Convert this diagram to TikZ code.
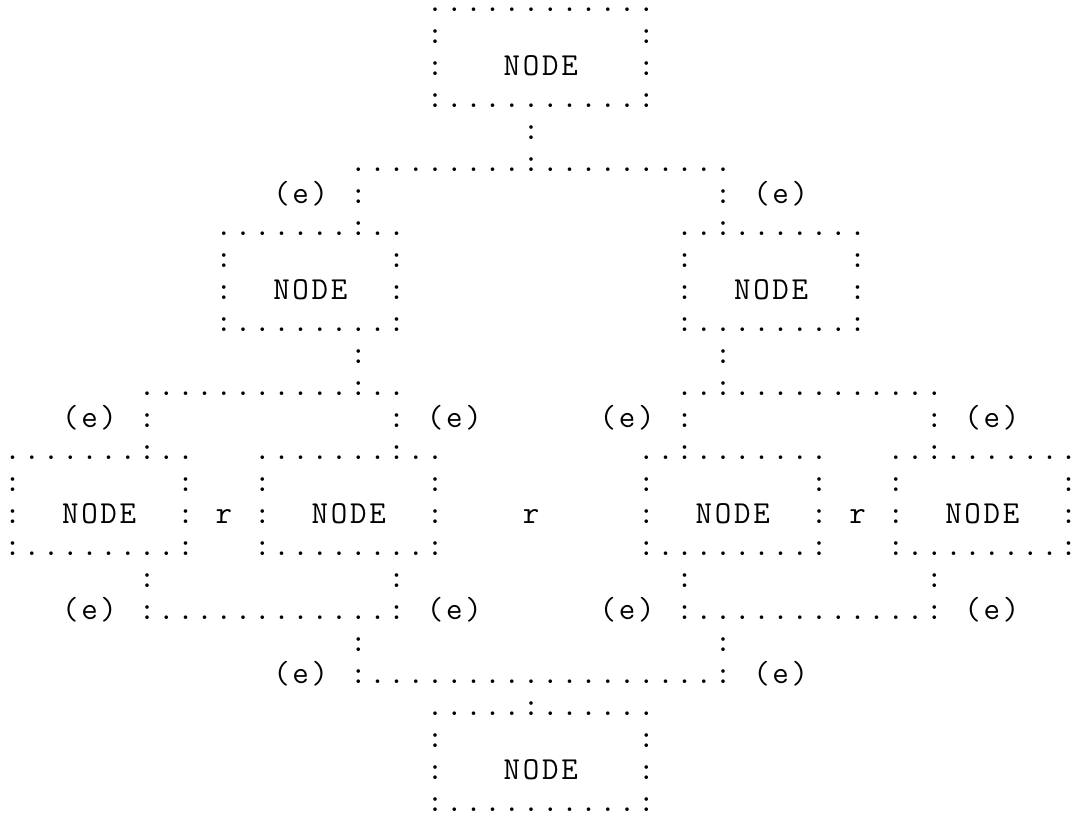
\documentclass[tikz,border=0pt]{standalone}
\newlength\cw \setlength\cw{9.6pt}
\makeatletter
\def\monostr#1{\mono@a#1\relax}
\def\mono@a#1{\ifx#1\relax\else\ifx#1_\hbox to\cw{}\else\hbox to\cw{\hss#1\hss}\fi\expandafter\mono@a\fi}
\makeatother
\tikzset{seg/.style={anchor=base west, inner sep=0pt, outer sep=0pt,
  font=\ttfamily\fontsize{16pt}{16pt}\selectfont}}
\newcommand\seg[4]{\node[seg] (#1) at ({1.55pt+#2*9.6pt},{-5.65pt-(#3-1)*16pt}) {\monostr{#4}};}
\begin{document}
\begin{tikzpicture}
\useasboundingbox (0,0) rectangle (537.5pt,-409.5pt);
% top box
\seg{topN}{22}{1}{............}
\seg{topW2}{22}{2}{:}\seg{topE2}{33}{2}{:}
\seg{topW3}{22}{3}{:}\seg{top}{26}{3}{NODE}\seg{topE3}{33}{3}{:}
\seg{topS}{22}{4}{:..........:}
\seg{c5}{27}{5}{:}
\seg{c6}{18}{6}{.........:..........}
\seg{e7a}{14}{7}{(e)_:}\seg{e7b}{37}{7}{:_(e)}
% second level
\seg{lN}{11}{8}{.......:..}\seg{rN}{35}{8}{..:.......}
\seg{lW9}{11}{9}{:}\seg{lE9}{20}{9}{:}\seg{rW9}{35}{9}{:}\seg{rE9}{44}{9}{:}
\seg{lW10}{11}{10}{:}\seg{L}{14}{10}{NODE}\seg{lE10}{20}{10}{:}
\seg{rW10}{35}{10}{:}\seg{R}{38}{10}{NODE}\seg{rE10}{44}{10}{:}
\seg{lS}{11}{11}{:........:}\seg{rS}{35}{11}{:........:}
\seg{c12a}{18}{12}{:}\seg{c12b}{37}{12}{:}
\seg{c13a}{7}{13}{...........:..}\seg{c13b}{35}{13}{..:...........}
\seg{e14a}{3}{14}{(e)_:}\seg{e14b}{20}{14}{:_(e)}
\seg{e14c}{31}{14}{(e)_:}\seg{e14d}{48}{14}{:_(e)}
% third level
\seg{llN}{0}{15}{.......:..}\seg{lrN}{13}{15}{.......:..}
\seg{rlN}{33}{15}{..:.......}\seg{rrN}{46}{15}{..:.......}
\seg{a16}{0}{16}{:}\seg{b16}{9}{16}{:}\seg{c16}{13}{16}{:}\seg{d16}{22}{16}{:}
\seg{f16}{33}{16}{:}\seg{g16}{42}{16}{:}\seg{h16}{46}{16}{:}\seg{i16}{55}{16}{:}
\seg{a17}{0}{17}{:}\seg{LL}{3}{17}{NODE}\seg{b17}{9}{17}{:}\seg{r1}{11}{17}{r}
\seg{c17}{13}{17}{:}\seg{LR}{16}{17}{NODE}\seg{d17}{22}{17}{:}\seg{r2}{27}{17}{r}
\seg{f17}{33}{17}{:}\seg{RL}{36}{17}{NODE}\seg{g17}{42}{17}{:}\seg{r3}{44}{17}{r}
\seg{h17}{46}{17}{:}\seg{RR}{49}{17}{NODE}\seg{i17}{55}{17}{:}
\seg{llS}{0}{18}{:........:}\seg{lrS}{13}{18}{:........:}
\seg{rlS}{33}{18}{:........:}\seg{rrS}{46}{18}{:........:}
\seg{c19a}{7}{19}{:}\seg{c19b}{20}{19}{:}\seg{c19c}{35}{19}{:}\seg{c19d}{48}{19}{:}
\seg{j20a}{3}{20}{(e)_:............:_(e)}\seg{j20b}{31}{20}{(e)_:............:_(e)}
\seg{c21a}{18}{21}{:}\seg{c21b}{37}{21}{:}
\seg{j22}{14}{22}{(e)_:..................:_(e)}
% bottom box
\seg{botN}{22}{23}{.....:......}
\seg{botW24}{22}{24}{:}\seg{botE24}{33}{24}{:}
\seg{botW25}{22}{25}{:}\seg{bot}{26}{25}{NODE}\seg{botE25}{33}{25}{:}
\seg{botS}{22}{26}{:..........:}
\end{tikzpicture}
\end{document}
